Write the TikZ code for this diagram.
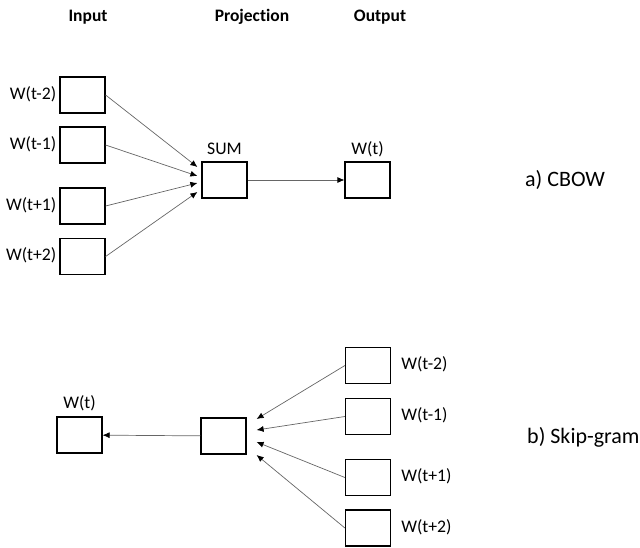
\documentclass[tikz,border=0pt]{standalone}
\usepackage{fontspec}
\setmainfont{Carlito}[RawFeature={-liga}]
\usetikzlibrary{calc, positioning, arrows.meta}
\tikzset{ box/.style = { rectangle
                       , draw
                       , line width     = 1.2pt
                       , minimum width  = 45pt
                       , minimum height = 36pt
                       , inner sep      = 0pt
                       },
          wlbl/.style = { font        = \fontsize{17.7}{20}\selectfont
                        , inner sep   = 0pt
                        , text height = 12pt
                        , text depth  = 4pt
                        },
          head/.style = { font      = \fontsize{17.5}{20}\selectfont\bfseries
                        , inner sep = 0pt
                        },
          title/.style = { font      = \fontsize{22}{26}\selectfont
                         , inner sep = 0pt
                         },
          wire/.style = { draw       = black!60
                        , line width = 0.7pt
                        , -{Latex[color=black, length=7pt, width=6pt]}
                        }
        }
\begin{document}
\begin{tikzpicture}[x=1pt, y=-1pt]
    \useasboundingbox (0,0) rectangle (640,547);
    % column heads
    \node[head] (hin)  at ( 88,17) {Input};
    \node[head] (hpro) at (252,17) {Projection};
    \node[head] (hout) at (380,17) {Output};
    % a) CBOW
    \node[box] (sum) at (224.5,180) {};
    \node[box] (out) at (367.5,180) {};
    \node[wlbl, above=3pt of sum] (lsum) {SUM};
    \node[wlbl, above=3pt of out] (lout) {W(t)};
    \foreach \n/\y/\w/\d in {1/95/W(t-2)/-13, 2/145/W(t-1)/-4, 3/206/W(t+1)/3, 4/256.5/W(t+2)/12} {
      \node[box] (in\n) at (82.5,\y) {};
      \node[wlbl, left=3pt of in\n] (lin\n) {\w};
      \coordinate (tin\n) at ($(sum.west)+(-4,\d)$);
      \draw[wire] (in\n.east) -- (tin\n);
    }
    \draw[wire] (sum) -- (out);
    \node[title, anchor=west] (cbow) at (525,180) {a) CBOW};
    % b) Skip-gram
    \node[box] (wt)   at ( 79.5,435) {};
    \node[box] (proj) at (223.5,436) {};
    \node[wlbl, above=4pt of wt] (lwt) {W(t)};
    \foreach \n/\y/\w/\d in {1/365.5/W(t-2)/-17, 2/416.5/W(t-1)/-6, 3/477.5/W(t+1)/6, 4/528/W(t+2)/19} {
      \node[box] (ctx\n) at (368,\y) {};
      \node[wlbl, right=10pt of ctx\n] (lctx\n) {\w};
      \coordinate (tctx\n) at ($(proj.east)+(10,\d)$);
      \draw[wire] (ctx\n.west) -- (tctx\n);
    }
    \draw[wire] (proj) -- (wt);
    \node[title, anchor=west] (skip) at (527,437) {b) Skip-gram};
\end{tikzpicture}
\end{document}
